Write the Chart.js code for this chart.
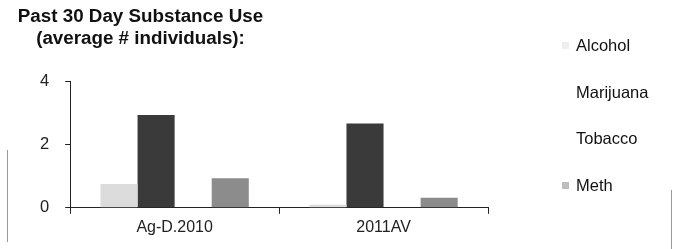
<!DOCTYPE html>
<html>
<head>
<meta charset="utf-8">
<script src="https://cdn.jsdelivr.net/npm/chart.js@4/dist/chart.umd.min.js"></script>
<style>
  html, body { margin: 0; padding: 0; background: #fff; }
  #wrap { position: relative; width: 678px; height: 249px; overflow: hidden; font-family: 'Liberation Sans', Arial, sans-serif; }
  #chart { position: absolute; left: 0; top: 0; }
  #title { position: absolute; left: 0; top: 5px; width: 281px; text-align: center; font-weight: bold; font-size: 18.8px; line-height: 22px; color: #111; }
  #legend { position: absolute; left: 562px; top: 36px; font-size: 16.5px; color: #111; }
  .item { height: 46.5px; display: flex; align-items: flex-start; }
  .mark { width: 7px; height: 7px; margin: 6px 7px 0 0; }
  .scan { position: absolute; width: 0; border-left: 1px solid #9a9a9a; }
</style>
</head>
<body>
<div id="wrap">
  <canvas id="chart" width="678" height="249"></canvas>
  <div id="title">Past 30 Day Substance Use<br>(average # individuals):</div>
  <div id="legend"></div>
  <div class="scan" style="left:7px;top:150px;height:92px;"></div>
  <div class="scan" style="left:671px;top:190px;height:59px;"></div>
</div>
<script>
// values
const categories = ['Ag-D.2010', '2011AV'];
const seriesNames = ['Alcohol', 'Marijuana', 'Tobacco', 'Meth'];
const alcohol = [0.75, 0.1];
const marijuana = [2.93, 2.66];
const tobacco = [0, 0];
const meth = [0.93, 0.32];
const yTicks = [0, 2, 4];

const seriesValues = [alcohol, marijuana, tobacco, meth];
const seriesColors = ['#dcdcdc', '#3a3a3a', '#f4f4f4', '#8c8c8c'];
const legendColors = ['#eeeeee', '#ffffff', '#ffffff', '#bdbdbd'];

const legend = document.getElementById('legend');
legend.innerHTML = seriesNames
  .map((name, i) => `<div class="item"><span class="mark" style="background:${legendColors[i]}"></span><span>${name}</span></div>`)
  .join('');

const ctx = document.getElementById('chart').getContext('2d');
new Chart(ctx, {
  type: 'bar',
  data: {
    labels: categories,
    datasets: seriesNames.map((name, i) => ({
      label: name,
      data: seriesValues[i],
      backgroundColor: seriesColors[i],
      borderWidth: 0,
      categoryPercentage: 0.71,
      barPercentage: 1
    }))
  },
  options: {
    responsive: false,
    animation: false,
    layout: { padding: { left: 24, right: 190, top: 81, bottom: 8 } },
    scales: {
      x: {
        grid: { offset: true, drawOnChartArea: false, drawTicks: true, tickLength: 6, color: '#222' },
        border: { color: '#222', width: 1 },
        ticks: { color: '#222', font: { family: 'Liberation Sans', size: 16 }, padding: 4 }
      },
      y: {
        min: 0,
        max: 4,
        afterBuildTicks: (axis) => { axis.ticks = yTicks.map((v) => ({ value: v })); },
        grid: { drawOnChartArea: false, drawTicks: true, tickLength: 5, color: '#222' },
        border: { color: '#222', width: 1 },
        ticks: { color: '#222', font: { family: 'Liberation Sans', size: 16.5 }, padding: 16 }
      }
    },
    plugins: { legend: { display: false }, tooltip: { enabled: false } }
  }
});
</script>
</body>
</html>
